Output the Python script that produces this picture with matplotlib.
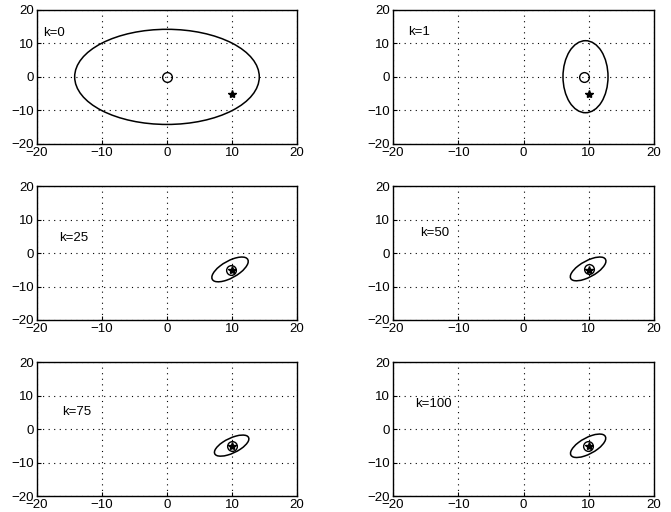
import numpy as np
import matplotlib.pyplot as plt
from matplotlib.patches import Ellipse

plt.rcParams['font.family'] = ['Liberation Sans', 'DejaVu Sans']

# panel labels (time step k)
labels = ['k=0', 'k=1', 'k=25', 'k=50', 'k=75', 'k=100']
# true target position (star)
true_x = [10, 10, 10, 10, 10, 10]
true_y = [-5, -5, -5, -5, -5, -5]
# estimated position (open circle)
est_x = [0.0, 9.3, 9.8, 10.0, 9.95, 9.9]
est_y = [0.0, 0.1, -5.0, -4.7, -5.0, -5.0]
# uncertainty ellipse: centre, std dev in x / y, correlation
ell_cx = [0.0, 9.5, 9.7, 9.9, 9.95, 9.9]
ell_cy = [0.0, 0.05, -4.9, -4.75, -4.95, -5.0]
ell_sx = [14.2, 3.45, 2.8, 2.73, 2.65, 2.7]
ell_sy = [14.2, 10.75, 3.7, 3.55, 3.15, 3.5]
ell_rho = [0.0, 0.0, 0.65, 0.66, 0.64, 0.65]
# label positions
lab_x = [-19.1, -17.7, -16.6, -15.9, -16.2, -16.6]
lab_y = [13.0, 13.3, 4.5, 6.1, 5.2, 7.4]

ticks = [-20, -10, 0, 10, 20]

fig = plt.figure(figsize=(6.71, 5.12), dpi=100)

col_left = [0.0551, 0.5857]
col_width = [0.3875, 0.389]
row_bottom = [0.719, 0.375, 0.0312]
row_height = 0.2617

for i in range(6):
    r, c = divmod(i, 2)
    ax = fig.add_axes([col_left[c], row_bottom[r], col_width[c], row_height])
    ax.set_xlim(-20, 20)
    ax.set_ylim(-20, 20)
    ax.set_xticks(ticks)
    ax.set_yticks(ticks)
    ax.tick_params(direction='in', length=3, labelsize=9.5, pad=2, width=0.8)
    ax.grid(True, color='black', linestyle=(0, (1, 4)), linewidth=0.8)
    for s in ax.spines.values():
        s.set_linewidth(1.0)

    # ellipse from covariance
    cov = np.array([[ell_sx[i] ** 2, ell_rho[i] * ell_sx[i] * ell_sy[i]],
                    [ell_rho[i] * ell_sx[i] * ell_sy[i], ell_sy[i] ** 2]])
    vals, vecs = np.linalg.eigh(cov)
    ang = np.degrees(np.arctan2(vecs[1, 1], vecs[0, 1]))
    e = Ellipse((ell_cx[i], ell_cy[i]), 2 * np.sqrt(vals[1]), 2 * np.sqrt(vals[0]),
                angle=ang, fill=False, edgecolor='black', linewidth=1.1)
    ax.add_patch(e)

    ax.plot(true_x[i], true_y[i], marker='*', color='black', markersize=6, linestyle='none')
    ax.plot(est_x[i], est_y[i], marker='o', markerfacecolor='none', markeredgecolor='black',
            markersize=7, markeredgewidth=1.0, linestyle='none')

    ax.text(lab_x[i], lab_y[i], labels[i], fontsize=9.5, ha='left', va='center')

fig.savefig('out.png', dpi=100)
